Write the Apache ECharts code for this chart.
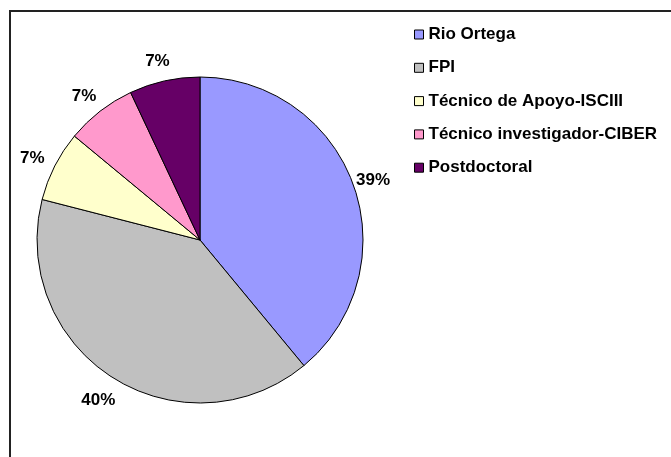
<!DOCTYPE html>
<html>
<head>
<meta charset="utf-8">
<script src="https://cdn.jsdelivr.net/npm/echarts@6/dist/echarts.min.js"></script>
<style>
html, body { margin: 0; padding: 0; background: #fff; }
#chart { width: 671px; height: 457px; }
</style>
</head>
<body>
<div id="chart"></div>
<script>
var categories = ['Rio Ortega', 'FPI', 'Técnico de Apoyo-ISCIII', 'Técnico investigador-CIBER', 'Postdoctoral'];
var values = [39, 40, 7, 7, 7];
var colors = ['#9999ff', '#c0c0c0', '#ffffcc', '#ff99cc', '#660066'];

var font = '"Liberation Sans", Arial, sans-serif';
var pieData = categories.map(function (name, i) {
    return { name: name, value: values[i] };
});

var myChart = echarts.init(document.getElementById('chart'));
myChart.setOption({
    animation: false,
    color: colors,
    graphic: [{
        type: 'rect',
        shape: { x: 10, y: 11, width: 700, height: 500 },
        style: { fill: 'none', stroke: '#222', lineWidth: 2 },
        silent: true
    }],
    legend: {
        orient: 'vertical',
        left: 409,
        top: 21,
        itemWidth: 9,
        itemHeight: 9,
        itemGap: 16.3,
        icon: 'rect',
        itemStyle: { borderColor: '#000', borderWidth: 1 },
        textStyle: { fontFamily: font, fontWeight: 'bold', fontSize: 17, color: '#000' },
        data: categories
    },
    series: [{
        // slices
        name: 'slices',
        type: 'pie',
        center: [200, 240],
        radius: 163,
        startAngle: 90,
        itemStyle: { borderColor: '#000', borderWidth: 1 },
        label: { show: false },
        labelLine: { show: false },
        emphasis: { scale: false },
        data: pieData
    }, {
        // ring of percentage labels around the pie
        name: 'labels',
        type: 'pie',
        center: [198, 243],
        radius: [166, 200],
        startAngle: 90,
        silent: true,
        itemStyle: { color: 'rgba(0,0,0,0)' },
        label: {
            show: true,
            position: 'inside',
            formatter: '{d}%',
            fontFamily: font,
            fontWeight: 'bold',
            fontSize: 17,
            color: '#000'
        },
        labelLine: { show: false },
        emphasis: { disabled: true },
        data: pieData
    }]
});
</script>
</body>
</html>
